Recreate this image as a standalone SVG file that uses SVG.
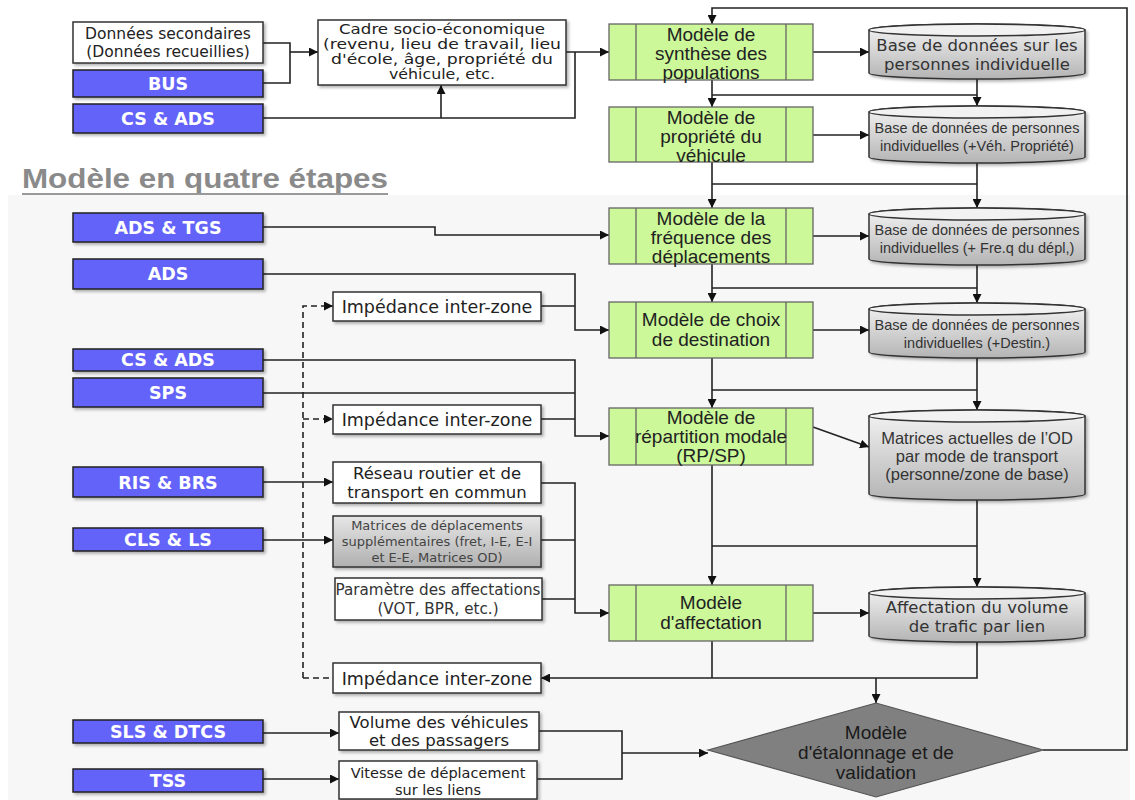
<svg xmlns="http://www.w3.org/2000/svg" width="1135" height="800" viewBox="0 0 1135 800">
<defs>
<style>
.blue rect{fill:#6464fa;stroke:#222;stroke-width:1.5}
.blue text{font-family:"DejaVu Sans",Verdana,sans-serif;font-weight:bold;font-size:17.5px;fill:#fff;text-anchor:middle}
.wbox rect{fill:#fff;stroke:#333;stroke-width:1.5}
.wbox text{font-family:"DejaVu Sans",Verdana,sans-serif;fill:#222;text-anchor:middle}
.model rect{fill:#ccf899;stroke:#666;stroke-width:1.3}
.model line{stroke:#666;stroke-width:1.3}
.model text{font-family:"Liberation Sans",Arial,sans-serif;font-size:19px;fill:#222;text-anchor:middle}
.cyl path{fill:url(#cylg);stroke:#333;stroke-width:1.5}
.cyl ellipse{fill:#f2f2f2;stroke:#333;stroke-width:1.5}
.cyl text{fill:#333;text-anchor:middle}
.sm{font-family:"Liberation Sans",Arial,sans-serif;font-size:14.5px}
.vd{font-family:"DejaVu Sans",Verdana,sans-serif}
.con path{fill:none;stroke:#222;stroke-width:1.6}
.con .arr{marker-end:url(#ah)}
.con .dash{stroke-dasharray:6 4}
</style>
<linearGradient id="cylg" x1="0" y1="0" x2="0" y2="1">
<stop offset="0" stop-color="#f4f4f4"/>
<stop offset="1" stop-color="#b4b4b4"/>
</linearGradient>
<linearGradient id="grayg" x1="0" y1="0" x2="0" y2="1">
<stop offset="0" stop-color="#e6e6e6"/>
<stop offset="1" stop-color="#b0b0b0"/>
</linearGradient>
<filter id="sh" x="-10%" y="-20%" width="130%" height="150%">
<feDropShadow dx="2" dy="2" stdDeviation="1.5" flood-color="#000" flood-opacity="0.3"/>
</filter>
<marker id="ah" markerWidth="9" markerHeight="9" refX="9" refY="4.5" orient="auto" markerUnits="userSpaceOnUse">
<path d="M0,0 L9,4.5 L0,9 z" fill="#111"/>
</marker>
</defs>

<rect x="0" y="0" width="1135" height="800" fill="#fff"/>
<rect x="8" y="195" width="1122" height="605" fill="#f7f7f7"/>

<g id="title">
<text x="22" y="188" font-family="Liberation Sans,Arial,sans-serif" font-weight="bold" font-size="28" fill="#8a8a8a" textLength="366" lengthAdjust="spacingAndGlyphs">Modèle en quatre étapes</text>
<line x1="22" y1="194" x2="388" y2="194" stroke="#999" stroke-width="2"/>
</g>

<g id="connectors" class="con">
<path d="M263,43 H290 V83 H263"/>
<path class="arr" d="M290,52 H318"/>
<path d="M263,118 H575 V52"/>
<path class="arr" d="M441,118 V85"/>
<path class="arr" d="M566,52 H609"/>
<path class="arr" d="M813,52 H869"/>
<path class="arr" d="M1043,750 H1127 V8 H712 V24"/>
<path class="arr" d="M712,80 V107"/>
<path class="arr" d="M977,79 V106"/>
<path d="M712,95 H977"/>
<path class="arr" d="M813,135 H869"/>
<path class="arr" d="M712,162 V208"/>
<path class="arr" d="M977,163 V208"/>
<path d="M712,184 H977"/>
<path class="arr" d="M813,236 H869"/>
<path class="arr" d="M712,264 V302"/>
<path class="arr" d="M977,265 V303"/>
<path d="M712,288 H977"/>
<path class="arr" d="M813,330 H869"/>
<path class="arr" d="M712,358 V408"/>
<path class="arr" d="M977,358 V410"/>
<path d="M712,390 H977"/>
<path class="arr" d="M813,427 L869,447"/>
<path class="arr" d="M712,465 V585"/>
<path class="arr" d="M977,500 V587"/>
<path d="M712,546 H977"/>
<path class="arr" d="M813,613 H869"/>
<path d="M712,641 V678"/>
<path class="arr" d="M977,642 V678 H541"/>
<path class="arr" d="M876,678 V703"/>
<path class="arr" d="M263,227 H435 V235 H609"/>
<path class="arr" d="M263,274 H575 V330 H609"/>
<path d="M541,306 H575"/>
<path class="arr" d="M263,360 H575 V436 H609"/>
<path d="M263,393 H575"/>
<path d="M541,419 H575"/>
<path class="dash arr" d="M303,678 V306 H333"/>
<path class="dash" d="M303,678 H333"/>
<path class="dash arr" d="M303,419 H333"/>
<path class="arr" d="M263,482 H333"/>
<path class="arr" d="M263,540 H333"/>
<path class="arr" d="M541,483 H575 V613 H609"/>
<path d="M541,540 H575"/>
<path d="M542,599 H575"/>
<path class="arr" d="M263,733 H339"/>
<path class="arr" d="M263,779 H339"/>
<path d="M539,731 H622 V779 H537"/>
<path class="arr" d="M622,753 H708"/>
</g>

<g id="n-donnees" class="wbox"><rect x="73" y="22" width="190" height="41" filter="url(#sh)"/><text x="168" y="39" font-size="15.5">Données secondaires</text><text x="168" y="57" font-size="15.5">(Données recueillies)</text></g>
<g id="n-bus" class="blue"><rect x="73" y="70" width="190" height="27" filter="url(#sh)"/><text x="168" y="90">BUS</text></g>
<g id="n-csads1" class="blue"><rect x="73" y="104" width="190" height="29" filter="url(#sh)"/><text x="168" y="125">CS &amp; ADS</text></g>
<g id="n-cadre" class="wbox"><rect x="318" y="20" width="248" height="65" filter="url(#sh)"/>
<text x="442" y="34" font-size="14.5" textLength="206" lengthAdjust="spacingAndGlyphs">Cadre socio-économique</text>
<text x="442" y="49" font-size="14.5" textLength="238" lengthAdjust="spacingAndGlyphs">(revenu, lieu de travail, lieu</text>
<text x="442" y="64" font-size="14.5" textLength="222" lengthAdjust="spacingAndGlyphs">d'école, âge, propriété du</text>
<text x="442" y="79" font-size="14.5" textLength="106" lengthAdjust="spacingAndGlyphs">véhicule, etc.</text></g>

<g id="n-adstgs" class="blue"><rect x="73" y="213" width="190" height="29" filter="url(#sh)"/><text x="168" y="234">ADS &amp; TGS</text></g>
<g id="n-ads" class="blue"><rect x="73" y="259" width="190" height="30" filter="url(#sh)"/><text x="168" y="280">ADS</text></g>
<g id="n-csads2" class="blue"><rect x="73" y="349" width="190" height="22" filter="url(#sh)"/><text x="168" y="366">CS &amp; ADS</text></g>
<g id="n-sps" class="blue"><rect x="73" y="378" width="190" height="29" filter="url(#sh)"/><text x="168" y="399">SPS</text></g>
<g id="n-risbrs" class="blue"><rect x="73" y="467" width="190" height="30" filter="url(#sh)"/><text x="168" y="489">RIS &amp; BRS</text></g>
<g id="n-clsls" class="blue"><rect x="73" y="528" width="190" height="23" filter="url(#sh)"/><text x="168" y="546">CLS &amp; LS</text></g>
<g id="n-slsdtcs" class="blue"><rect x="73" y="720" width="190" height="23" filter="url(#sh)"/><text x="168" y="738">SLS &amp; DTCS</text></g>
<g id="n-tss" class="blue"><rect x="73" y="769" width="190" height="23" filter="url(#sh)"/><text x="168" y="787">TSS</text></g>

<g id="n-imp1" class="wbox"><rect x="333" y="292" width="208" height="29" filter="url(#sh)"/><text x="437" y="313" font-size="17.5">Impédance inter-zone</text></g>
<g id="n-imp2" class="wbox"><rect x="333" y="405" width="208" height="29" filter="url(#sh)"/><text x="437" y="426" font-size="17.5">Impédance inter-zone</text></g>
<g id="n-reseau" class="wbox"><rect x="333" y="462" width="208" height="41" filter="url(#sh)"/><text x="437" y="479" font-size="16.5">Réseau routier et de</text><text x="437" y="498" font-size="16.5">transport en commun</text></g>
<g id="n-matrices" class="wbox"><rect x="333" y="516" width="208" height="51" style="fill:url(#grayg)" filter="url(#sh)"/>
<text x="437" y="530" class="sm" style="font-size:13px;fill:#444">Matrices de déplacements</text>
<text x="437" y="546" class="sm" style="font-size:13px;fill:#444">supplémentaires (fret, I-E, E-I</text>
<text x="437" y="562" class="sm" style="font-size:13px;fill:#444">et E-E, Matrices OD)</text></g>
<g id="n-param" class="wbox"><rect x="335" y="578" width="207" height="42" filter="url(#sh)"/><text x="438" y="595" class="sm" style="font-size:15.2px;fill:#333">Paramètre des affectations</text><text x="438" y="614" class="sm" style="font-size:15.2px;fill:#333">(VOT, BPR, etc.)</text></g>
<g id="n-imp3" class="wbox"><rect x="333" y="663" width="208" height="30" filter="url(#sh)"/><text x="437" y="685" font-size="17.5">Impédance inter-zone</text></g>
<g id="n-volume" class="wbox"><rect x="339" y="712" width="200" height="38" filter="url(#sh)"/><text x="439" y="728" font-size="16.5">Volume des véhicules</text><text x="439" y="746" font-size="16.5">et des passagers</text></g>
<g id="n-vitesse" class="wbox"><rect x="339" y="761" width="198" height="38" filter="url(#sh)"/><text x="438" y="778" font-size="14.5">Vitesse de déplacement</text><text x="438" y="795" font-size="14.5">sur les liens</text></g>

<g id="m-synthese" class="model"><rect x="609" y="24" width="204" height="56"/><line x1="636" y1="24" x2="636" y2="80"/><line x1="786" y1="24" x2="786" y2="80"/>
<text x="711" y="41">Modèle de</text><text x="711" y="60">synthèse des</text><text x="711" y="79">populations</text></g>
<g id="m-propriete" class="model"><rect x="609" y="107" width="204" height="55"/><line x1="636" y1="107" x2="636" y2="162"/><line x1="786" y1="107" x2="786" y2="162"/>
<text x="711" y="124">Modèle de</text><text x="711" y="143">propriété du</text><text x="711" y="162">véhicule</text></g>
<g id="m-frequence" class="model"><rect x="609" y="208" width="204" height="56"/><line x1="636" y1="208" x2="636" y2="264"/><line x1="786" y1="208" x2="786" y2="264"/>
<text x="711" y="225">Modèle de la</text><text x="711" y="244">fréquence des</text><text x="711" y="263">déplacements</text></g>
<g id="m-destination" class="model"><rect x="609" y="302" width="204" height="56"/><line x1="636" y1="302" x2="636" y2="358"/><line x1="786" y1="302" x2="786" y2="358"/>
<text x="711" y="326">Modèle de choix</text><text x="711" y="346">de destination</text></g>
<g id="m-repartition" class="model"><rect x="609" y="408" width="204" height="57"/><line x1="636" y1="408" x2="636" y2="465"/><line x1="786" y1="408" x2="786" y2="465"/>
<text x="711" y="424">Modèle de</text><text x="711" y="443">répartition modale</text><text x="711" y="462">(RP/SP)</text></g>
<g id="m-affectation" class="model"><rect x="609" y="585" width="204" height="56"/><line x1="636" y1="585" x2="636" y2="641"/><line x1="786" y1="585" x2="786" y2="641"/>
<text x="711" y="609">Modèle</text><text x="711" y="629">d'affectation</text></g>

<g id="c-base1" class="cyl"><path d="M869,30 A108,6 0 0 1 1085,30 V73 A108,6 0 0 1 869,73 Z" filter="url(#sh)"/><ellipse cx="977" cy="30" rx="108" ry="6"/>
<text x="977" y="51" class="vd" font-size="16.5">Base de données sur les</text><text x="977" y="70" class="vd" font-size="16.5">personnes individuelle</text></g>
<g id="c-base2" class="cyl"><path d="M869,112 A108,6 0 0 1 1085,112 V157 A108,6 0 0 1 869,157 Z" filter="url(#sh)"/><ellipse cx="977" cy="112" rx="108" ry="6"/>
<text x="977" y="133" class="sm">Base de données de personnes</text><text x="977" y="151" class="sm">individuelles (+Véh. Propriété)</text></g>
<g id="c-base3" class="cyl"><path d="M869,214 A108,6 0 0 1 1085,214 V259 A108,6 0 0 1 869,259 Z" filter="url(#sh)"/><ellipse cx="977" cy="214" rx="108" ry="6"/>
<text x="977" y="235" class="sm">Base de données de personnes</text><text x="977" y="253" class="sm">individuelles (+ Fre.q du dépl,)</text></g>
<g id="c-base4" class="cyl"><path d="M869,309 A108,6 0 0 1 1085,309 V352 A108,6 0 0 1 869,352 Z" filter="url(#sh)"/><ellipse cx="977" cy="309" rx="108" ry="6"/>
<text x="977" y="330" class="sm">Base de données de personnes</text><text x="977" y="348" class="sm">individuelles (+Destin.)</text></g>
<g id="c-matod" class="cyl"><path d="M869,416 A108,6 0 0 1 1085,416 V494 A108,6 0 0 1 869,494 Z" filter="url(#sh)"/><ellipse cx="977" cy="416" rx="108" ry="6"/>
<text x="977" y="444" class="sm" style="font-size:16.5px">Matrices actuelles de l’OD</text><text x="977" y="462" class="sm" style="font-size:16.5px">par mode de transport</text><text x="977" y="480" class="sm" style="font-size:16.5px">(personne/zone de base)</text></g>
<g id="c-affvol" class="cyl"><path d="M869,593 A108,6 0 0 1 1085,593 V636 A108,6 0 0 1 869,636 Z" filter="url(#sh)"/><ellipse cx="977" cy="593" rx="108" ry="6"/>
<text x="977" y="613" class="vd" font-size="16.5">Affectation du volume</text><text x="977" y="632" class="vd" font-size="16.5">de trafic par lien</text></g>

<g id="d-etalonnage">
<polygon points="708,750 876,703 1043,750 876,797" fill="#808080" stroke="#555" stroke-width="1.2"/>
<text x="876" y="739" font-family="Liberation Sans,Arial,sans-serif" font-size="19" fill="#1a1a1a" text-anchor="middle">Modèle</text>
<text x="876" y="759" font-family="Liberation Sans,Arial,sans-serif" font-size="19" fill="#1a1a1a" text-anchor="middle">d'étalonnage et de</text>
<text x="876" y="779" font-family="Liberation Sans,Arial,sans-serif" font-size="19" fill="#1a1a1a" text-anchor="middle">validation</text>
</g>
</svg>
